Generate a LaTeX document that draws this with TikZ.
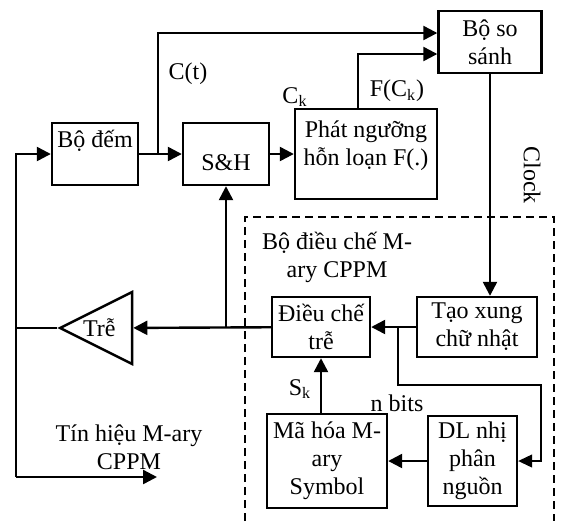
\documentclass[tikz,border=0pt]{standalone}
\usepackage{fontspec}
\setmainfont{Liberation Serif}
\usetikzlibrary{positioning,shapes.geometric,arrows.meta}

\begin{document}
\begin{tikzpicture}[
        x=0.5pt, y=-0.5pt,
        font=\fontsize{12}{14}\selectfont,
        block/.style={rectangle, draw, line width=1.2pt, align=center, inner sep=2pt},
        arrow/.style={-{Triangle[length=7pt,width=7pt]}, line width=1.2pt},
        thinarrow/.style={-{Triangle[length=7pt,width=6.5pt]}, line width=0.6pt}
    ]
        \useasboundingbox (0,0) rectangle (562,521);

        \node[block, minimum width=43pt, minimum height=31pt, text height=9pt, text depth=16pt] (dem) at (95,154) {Bộ đếm};
        \node[block, minimum width=43pt, minimum height=31pt, text height=19pt, text depth=3pt] (sh) at (226,154) {S\&H};
        \node[block, minimum width=71pt, minimum height=45pt, text height=23pt, text depth=12pt] (phat) at (366,154) {Phát ngưỡng\\hỗn loạn F(.)};
        \node[block, minimum width=51.5pt, minimum height=31pt] (sosanh) at (490,42) {Bộ so\\sánh};
        \node[block, minimum width=49pt, minimum height=30pt] (dieuche) at (321,327) {Điều chế\\trễ};
        \node[block, minimum width=60pt, minimum height=30pt] (taoxung) at (477,327) {Tạo xung\\chữ nhật};
        \node[block, minimum width=60pt, minimum height=47pt] (mahoa) at (327,461) {Mã hóa M-\\ary\\Symbol};
        \node[block, minimum width=44.5pt, minimum height=45pt] (dl) at (472.5,461) {DL nhị\\phân\\nguồn};
        \node[isosceles triangle, isosceles triangle stretches, shape border rotate=180, draw, line width=1.2pt,
              minimum width=36pt, minimum height=36pt, inner sep=0pt, anchor=apex] (tre) at (57,328) {\makebox[0pt][r]{Trễ}};

        \coordinate (ct) at (158,154);
        \coordinate (lc) at (16,477);
        \coordinate (outend) at (157,477);
        \coordinate (br) at (398,327);
        \coordinate (nb) at (541,385);

        \draw[dashed, dash pattern=on 4pt off 2.5pt, line width=0.9pt] (245,521) -- (245,217) -- (554,217) -- (554,521);

        \draw[arrow] (dem) -- (sh);
        \draw[arrow] (sh) -- (phat);
        \draw[arrow] (ct) |- ([yshift=4.5pt]sosanh.west);
        \draw[arrow] ([xshift=-4pt]phat.north) |- ([yshift=-6pt]sosanh.west);
        \draw[arrow] (sosanh) -- (sosanh |- taoxung.north);
        \draw[arrow] (taoxung) -- (dieuche);
        \draw[arrow] (dieuche) -- (tre);
        \draw[arrow] (sh |- dieuche) -- (sh);
        \draw[line width=1.2pt] (tre.apex) -- (tre.apex -| lc);
        \draw[arrow] (lc) |- (dem);
        \draw[arrow] (lc) -- (outend);
        \draw[thinarrow] (br) |- (nb) |- (dl);
        \draw[arrow] (dl) -- (mahoa);
        \draw[arrow] (mahoa.north -| dieuche) -- (dieuche);

        \node (ctlbl) at (188,74) {C(t)};
        \node (cklbl) at (295,97) {C\textsubscript{k}};
        \node (fcklbl) at (397,91) {F(C\textsubscript{k})};
        \node[rotate=-90] (clocklbl) at (532,175) {Clock};
        \node[align=center] (modlbl) at (337,257) {Bộ điều chế M-\\ary CPPM};
        \node[align=center] (outlbl) at (129,447) {Tín hiệu M-ary\\CPPM};
        \node (sklbl) at (300,389) {S\textsubscript{k}};
        \node (nbitlbl) at (397,403) {n bits};
    \end{tikzpicture}
\end{document}
